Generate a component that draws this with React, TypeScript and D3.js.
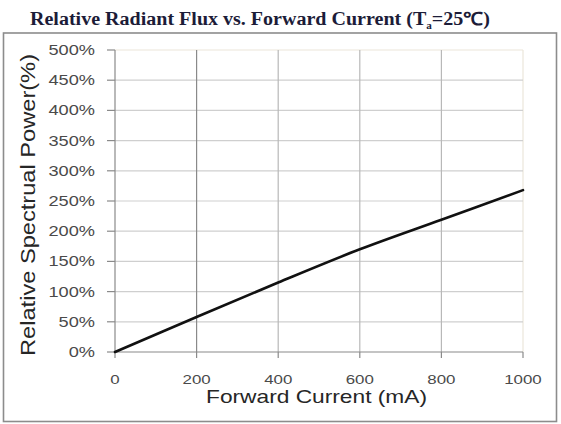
import React from "react";
import * as d3 from "d3";

const currents = [0, 200, 400, 600, 800, 1000];
const relativePower = [0, 58, 115, 170, 219, 268];
const xTicks = [0, 200, 400, 600, 800, 1000];
const yTicks = [0, 50, 100, 150, 200, 250, 300, 350, 400, 450, 500];

const W = 561;
const H = 424;
const plot = { left: 115, right: 523, top: 50, bottom: 352 };

export default function App() {
  const x = d3.scaleLinear().domain([0, 1000]).range([plot.left, plot.right]);
  const y = d3.scaleLinear().domain([0, 500]).range([plot.bottom, plot.top]);
  const pts = currents.map((c, i) => [c, relativePower[i]] as [number, number]);
  const line = d3
    .line<[number, number]>()
    .x((d) => x(d[0]))
    .y((d) => y(d[1]))
    .curve(d3.curveCatmullRom);
  const sans = "'Liberation Sans', Arial, sans-serif";
  return (
    <svg
      width={W}
      height={H}
      style={{ position: "absolute", left: 0, top: 0 }}
      viewBox={`0 0 ${W} ${H}`}
    >
      <rect x={0} y={0} width={W} height={H} fill="#fff" />
      <text
        x={30}
        y={25}
        fontFamily="'Liberation Serif', 'Times New Roman', serif"
        fontWeight="bold"
        fontSize={18}
        fill="#1c1c38"
        textLength={460}
        lengthAdjust="spacingAndGlyphs"
      >
        Relative Radiant Flux vs. Forward Current (T
        <tspan fontSize={10} dy={4}>a</tspan>
        <tspan dy={-4}>=25℃)</tspan>
      </text>
      <rect x={3.5} y={33} width={553} height={388.5} fill="none" stroke="#8c8c8c" strokeWidth={1.6} />
      {/* plot border top/right */}
      <line x1={plot.left} x2={plot.right} y1={plot.top} y2={plot.top} stroke="#ebe6da" strokeWidth={1.2} />
      <line x1={plot.right} x2={plot.right} y1={plot.top} y2={plot.bottom} stroke="#ebe6da" strokeWidth={1.2} />
      {/* horizontal grid */}
      {yTicks
        .filter((t) => t > 0 && t < 500)
        .map((t) => (
          <line key={"hg" + t} x1={plot.left} x2={plot.right} y1={y(t)} y2={y(t)} stroke="#cfcfcf" strokeWidth={1.2} />
        ))}
      {/* vertical grid */}
      {xTicks
        .filter((t) => t > 0 && t < 1000)
        .map((t) => (
          <line
            key={"vg" + t}
            x1={x(t)}
            x2={x(t)}
            y1={plot.top}
            y2={plot.bottom}
            stroke={t === 200 ? "#8a8a8a" : "#b8b8b8"}
            strokeWidth={1.2}
          />
        ))}
      {/* axes */}
      <line x1={plot.left} x2={plot.left} y1={plot.top} y2={plot.bottom} stroke="#8a8a8a" strokeWidth={1.2} />
      <line x1={plot.left} x2={plot.right} y1={plot.bottom} y2={plot.bottom} stroke="#8a8a8a" strokeWidth={1.2} />
      {yTicks.map((t) => (
        <line key={"yt" + t} x1={plot.left - 8} x2={plot.left} y1={y(t)} y2={y(t)} stroke="#8a8a8a" strokeWidth={1.2} />
      ))}
      {xTicks.map((t) => (
        <line key={"xt" + t} x1={x(t)} x2={x(t)} y1={plot.bottom} y2={plot.bottom + 6} stroke="#8a8a8a" strokeWidth={1.2} />
      ))}
      {/* y tick labels */}
      {yTicks.map((t) => (
        <g key={"yl" + t} transform={`translate(95,${y(t)}) scale(1.3,1)`}>
          <text textAnchor="end" dy="0.36em" fontFamily={sans} fontSize={14} fill="#4a4a4a">
            {t + "%"}
          </text>
        </g>
      ))}
      {/* x tick labels */}
      {xTicks.map((t) => (
        <g key={"xl" + t} transform={`translate(${x(t)},383.5) scale(1.25,1)`}>
          <text textAnchor="middle" fontFamily={sans} fontSize={13.5} fill="#4a4a4a">
            {t}
          </text>
        </g>
      ))}
      <text
        x={206}
        y={403}
        fontFamily={sans}
        fontSize={18.5}
        fill="#262626"
        textLength={221}
        lengthAdjust="spacingAndGlyphs"
      >
        Forward Current (mA)
      </text>
      <text
        transform={`translate(35,356) rotate(-90)`}
        fontFamily={sans}
        fontSize={20}
        fill="#262626"
        textLength={302}
        lengthAdjust="spacingAndGlyphs"
      >
        Relative Spectrual Power(%)
      </text>
      <path d={line(pts) || ""} fill="none" stroke="#111" strokeWidth={2.6} strokeLinecap="round" />
    </svg>
  );
}
